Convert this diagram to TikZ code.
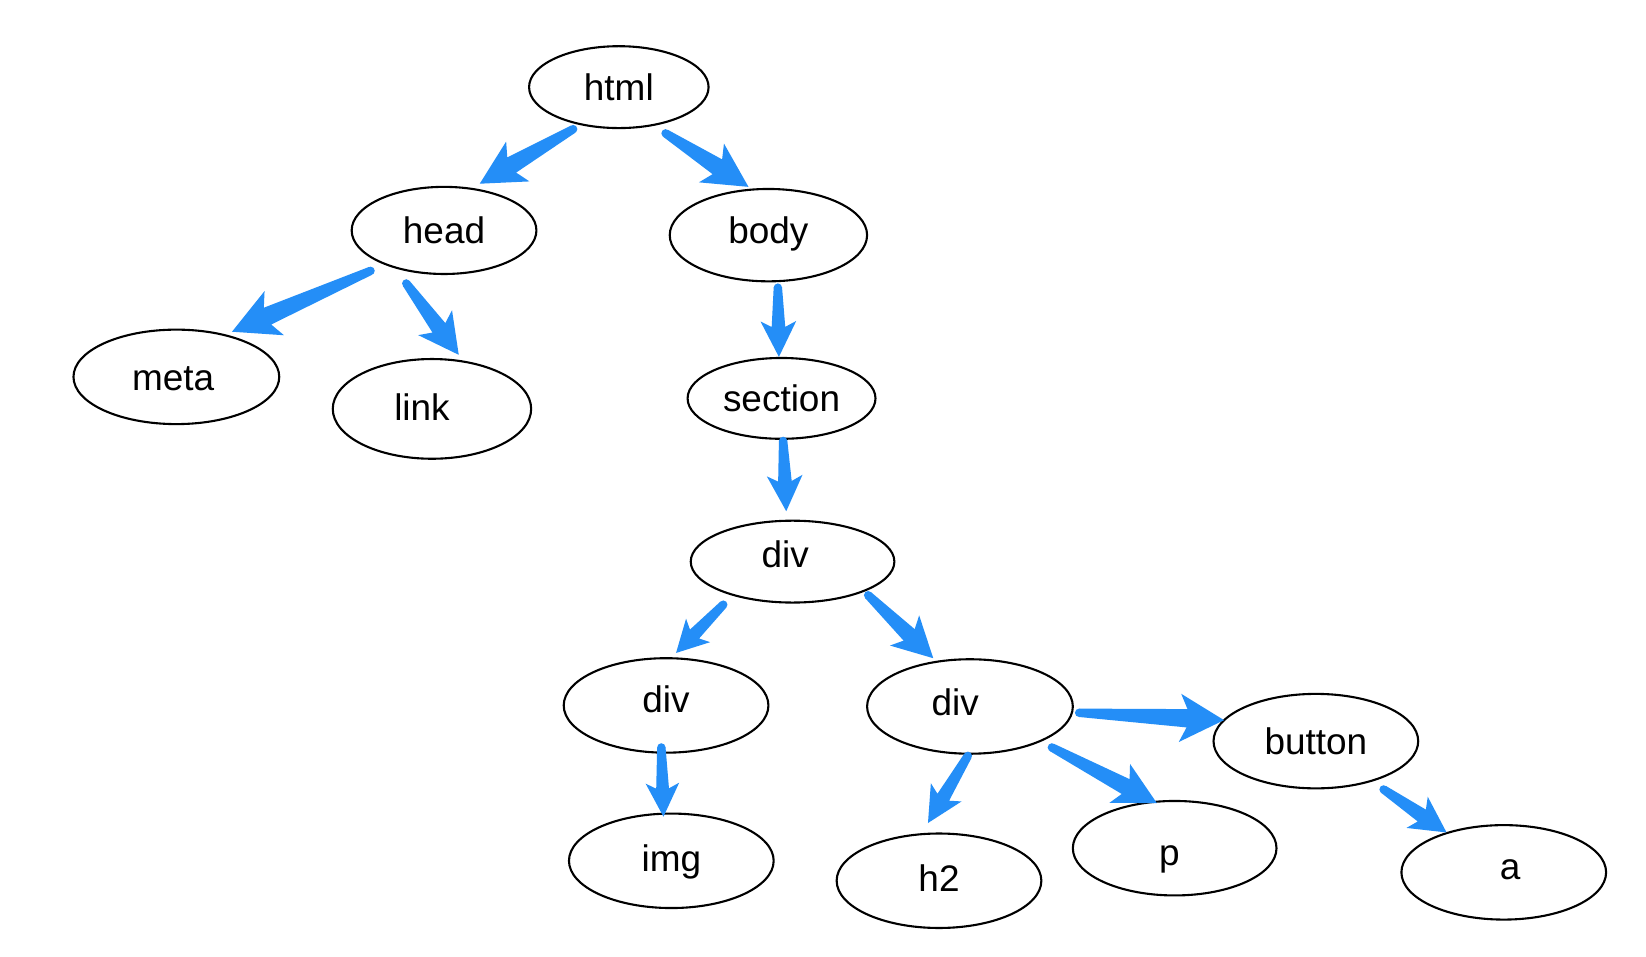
\documentclass[tikz,border=0pt]{standalone}
\usepackage{fontspec}
\setmainfont{Liberation Sans}
\usetikzlibrary{calc,shapes.geometric}
\definecolor{arrowblue}{RGB}{36,142,247}
% tapered arrow: #1 start, #2 tip, #3 head length (px), #4 head half width (px)
\newcommand\tarr[4]{%
  \fill[arrowblue] (#1) circle[radius=2pt];
  \fill[arrowblue]
    ($(#1)!2pt!90:(#2)$)
    -- ($($(#2)!0.84*#3*0.5pt!(#1)$)!0.38*#4*0.5pt!-90:(#1)$)
    -- ($($(#2)!#3*0.5pt!(#1)$)!#4*0.5pt!-90:(#1)$)
    -- (#2)
    -- ($($(#2)!#3*0.5pt!(#1)$)!#4*0.5pt!90:(#1)$)
    -- ($($(#2)!0.84*#3*0.5pt!(#1)$)!0.38*#4*0.5pt!90:(#1)$)
    -- ($(#1)!2pt!-90:(#2)$) -- cycle;}
\begin{document}
\begin{tikzpicture}[x=0.5pt,y=-0.5pt,
  nd/.style={ellipse,draw=black,line width=1pt,inner sep=0pt,
    font=\fontsize{17.6}{20}\selectfont,text height=12.6pt,text depth=0pt}]
\useasboundingbox[fill=white] (0,0) rectangle (1568,911);
% nodes
\node[nd,minimum width=171pt*0.5,minimum height=78pt*0.5] (html) at (589.5,83) {html};
\node[nd,minimum width=176pt*0.5,minimum height=83pt*0.5] (head) at (423,219.5) {head};
\node[nd,minimum width=188pt*0.5,minimum height=88pt*0.5] (body) at (732,224) {\raisebox{2.5pt}{body}};
\node[nd,minimum width=196pt*0.5,minimum height=90pt*0.5] (meta) at (168,359) {meta\kern3pt};
\node[nd,minimum width=189pt*0.5,minimum height=95pt*0.5] (link) at (411.5,389.5) {\raisebox{1pt}{link}\kern9.5pt};
\node[nd,minimum width=179pt*0.5,minimum height=77pt*0.5] (section) at (744.5,379.5) {section};
\node[nd,minimum width=194pt*0.5,minimum height=78pt*0.5] (div1) at (755,535) {\raisebox{3.5pt}{div}\kern7pt};
\node[nd,minimum width=195pt*0.5,minimum height=90pt*0.5] (div2) at (634.5,672) {\raisebox{3pt}{div}};
\node[nd,minimum width=196pt*0.5,minimum height=90pt*0.5] (div3) at (924,673) {\raisebox{2pt}{div}\kern14pt};
\node[nd,minimum width=195pt*0.5,minimum height=90pt*0.5] (button) at (1253.5,706) {button};
\node[nd,minimum width=195pt*0.5,minimum height=90pt*0.5] (img) at (639.5,820) {\raisebox{1pt}{img}};
\node[nd,minimum width=195pt*0.5,minimum height=90pt*0.5] (h2) at (894.5,839) {\raisebox{1pt}{h2}};
\node[nd,minimum width=194pt*0.5,minimum height=90pt*0.5] (p) at (1119,808) {\raisebox{-2pt}{p}\kern5pt};
\node[nd,minimum width=195pt*0.5,minimum height=90pt*0.5] (a) at (1432.5,831) {\kern6pt\raisebox{3pt}{a}};
% arrow end points
\coordinate (s1) at (546,123); \coordinate (t1) at (457,175);
\coordinate (s2) at (634,127); \coordinate (t2) at (713,178);
\coordinate (s3) at (353,258); \coordinate (t3) at (221,316);
\coordinate (s4) at (387,270); \coordinate (t4) at (437,338);
\coordinate (s5) at (741,274); \coordinate (t5) at (742,340);
\coordinate (s6) at (746,420); \coordinate (t6) at (749,487);
\coordinate (s7) at (689,576); \coordinate (t7) at (644,622);
\coordinate (s8) at (827,567); \coordinate (t8) at (889,627);
\coordinate (s9) at (630,712); \coordinate (t9) at (632,778);
\coordinate (s10) at (1028,679); \coordinate (t10) at (1166,686);
\coordinate (s11) at (922,720); \coordinate (t11) at (884,784);
\coordinate (s12) at (1002,712); \coordinate (t12) at (1102,765);
\coordinate (s13) at (1318,752); \coordinate (t13) at (1378,793);
% arrows
\tarr{s1}{t1}{42}{22}
\tarr{s2}{t2}{42}{22}
\tarr{s3}{t3}{44}{23}
\tarr{s4}{t4}{38}{20}
\tarr{s5}{t5}{34}{17}
\tarr{s6}{t6}{34}{17}
\tarr{s7}{t7}{30}{16}
\tarr{s8}{t8}{38}{20}
\tarr{s9}{t9}{32}{16}
\tarr{s10}{t10}{42}{23}
\tarr{s11}{t11}{34}{17}
\tarr{s12}{t12}{40}{21}
\tarr{s13}{t13}{34}{18}
\end{tikzpicture}
\end{document}
